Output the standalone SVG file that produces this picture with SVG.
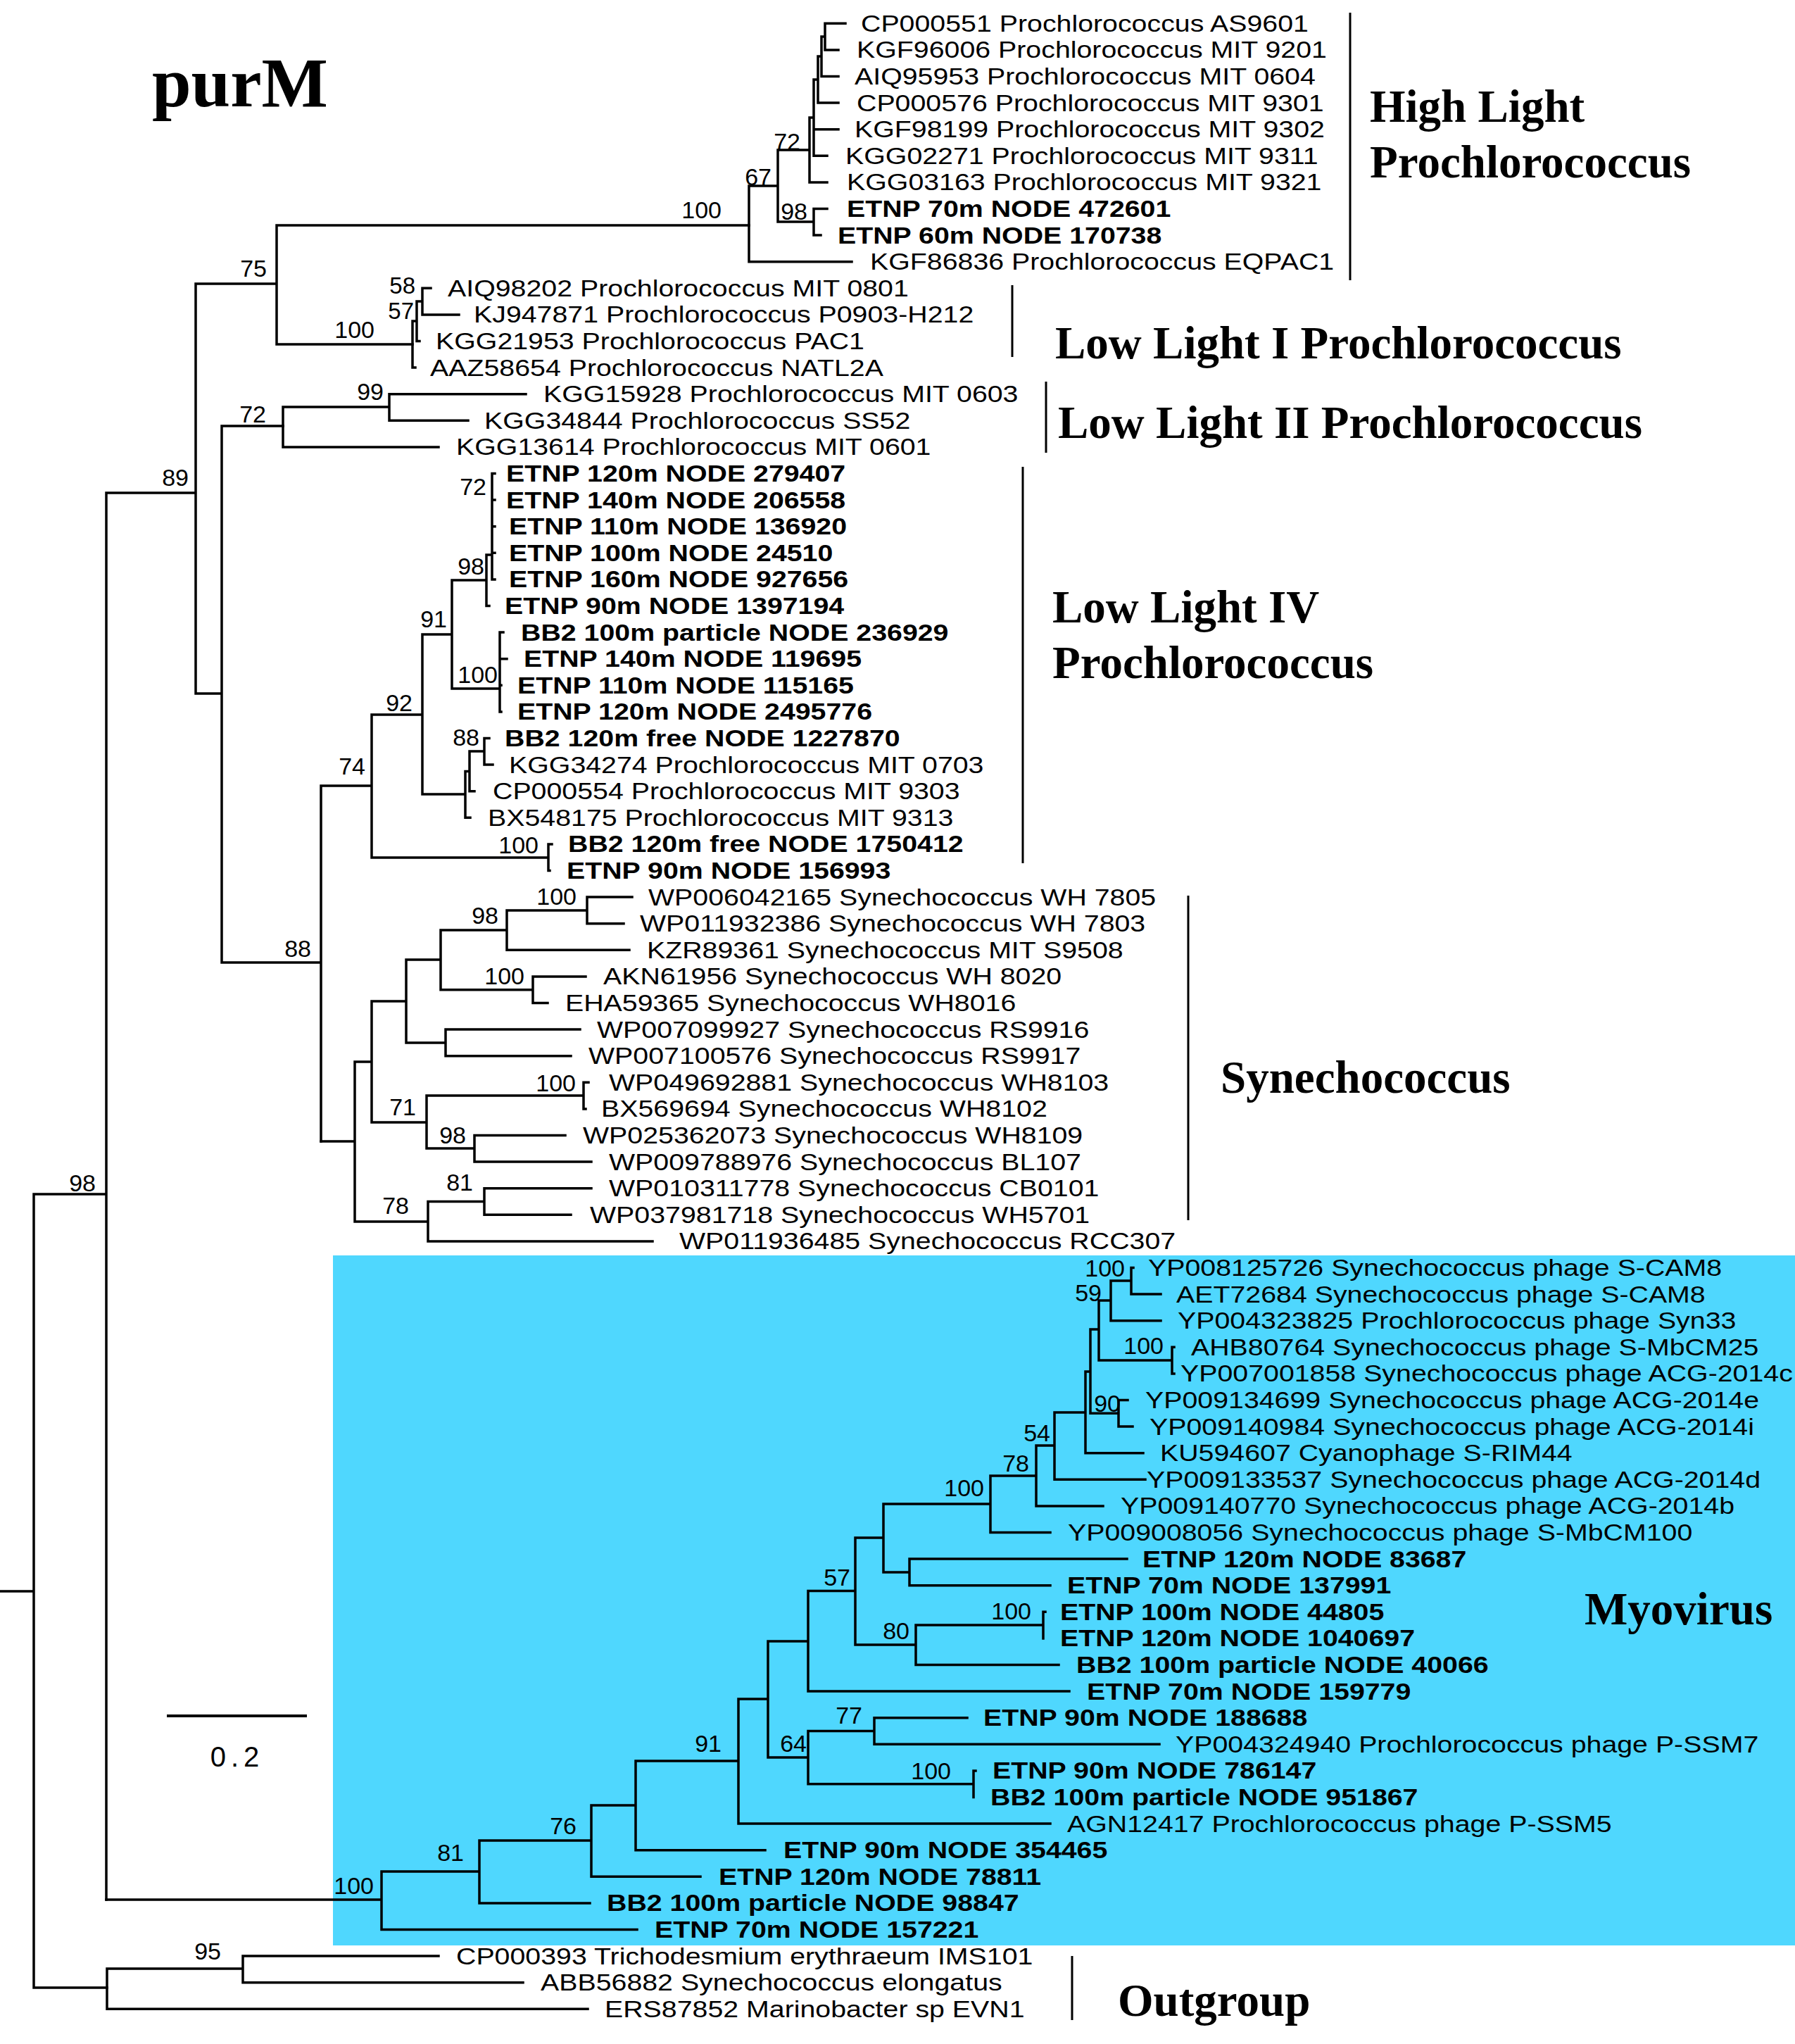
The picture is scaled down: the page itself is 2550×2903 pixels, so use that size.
<svg xmlns="http://www.w3.org/2000/svg" width="2550" height="2903" viewBox="0 0 2550 2903">
<style>
.lf{font-family:"Liberation Sans",Arial,sans-serif;font-size:32.5px;fill:#000}
.b{font-weight:bold}
.bs{font-family:"Liberation Sans",Arial,sans-serif;font-size:34px;fill:#000;text-anchor:end}
.cl{font-family:"Liberation Serif","Times New Roman",serif;font-size:65px;font-weight:bold;fill:#000}
.br{fill:none;stroke:#000;stroke-width:3.5;stroke-linecap:square}
.bar{fill:none;stroke:#000;stroke-width:3}
</style>
<rect width="2550" height="2903" fill="#fff"/>
<rect id="myovirus-box" x="473" y="1783" width="2077" height="980" fill="#4fd7fe"/>
<text class="cl" x="216" y="151" style="font-size:100px">purM</text>
<g id="connectors">
<path class="br" d="M0,2260H48M48,1696V2823M48,1696H151M48,2823H152M151,700V2698M151,700H278M278,403V985M278,403H393M393,320V489M393,320H1064M393,489H586M278,985H315M315,605V1367M315,605H402M315,1367H456M456,1116V1621M456,1116H528M528,1015V1218M528,1015H600M600,901V1128M600,901H642M642,824V978M642,824H691M691,788V860.5M691,860.5H695M691,788H699M699,672.5V822.9M699,672.5H703M699,710.1H703M699,747.7H703M699,785.3H703M699,822.9H703M642,978H710M710,898.1V1010.9M710,898.1H715M710,935.7H720M710,973.3H712M710,1010.9H712M600,1128H661M661,1095.5V1161.3M661,1161.3H668M661,1095.5H667M667,1067V1123.7M667,1123.7H674M667,1067H688M688,1048.5V1086.1M688,1048.5H695M688,1086.1H700M528,1218H779M779,1198.9V1236.5M779,1198.9H784M779,1236.5H781"/>
<path class="br" d="M402,578V634.9M402,578H553M553,559.7V597.3M553,559.7H747M553,597.3H665M402,634.9H623M586,456V522.1M586,522.1H590M586,456H592M592,428V484.5M592,484.5H596M592,428H600M600,409.3V446.9M600,409.3H612M600,446.9H652"/>
<path class="br" d="M1064,264V371.7M1064,371.7H1210M1064,264H1105M1105,213V315M1105,315H1156M1156,296.5V334.1M1156,296.5H1175M1156,334.1H1166M1105,213H1150M1150,167V258.9M1150,258.9H1175M1150,167H1156M1156,113V221.3M1156,221.3H1175M1156,183.7H1191M1156,113H1162M1162,80V146.1M1162,146.1H1191M1162,80H1167M1167,52V108.5M1167,108.5H1191M1167,52H1172M1172,33.3V70.9M1172,33.3H1201M1172,70.9H1191"/>
<path class="br" d="M456,1621H504M504,1508V1735M504,1508H528M528,1422V1594M528,1422H577M577,1363V1481M577,1363H626M626,1321V1405.7M626,1321H720M720,1293V1349.3M720,1293H834M834,1274.1V1311.7M834,1274.1H898M834,1311.7H886M720,1349.3H894M626,1405.7H757M757,1386.9V1424.5M757,1386.9H832M757,1424.5H778M577,1481H633M633,1462.1V1499.7M633,1462.1H824M633,1499.7H811M528,1594H606M606,1556V1631M606,1556H829M829,1537.3V1574.9M829,1537.3H836M829,1574.9H832M606,1631H674M674,1612.5V1650.1M674,1612.5H803M674,1650.1H840M504,1735H608M608,1706.5V1762.9M608,1706.5H688M688,1687.7V1725.3M688,1687.7H840M688,1725.3H811M608,1762.9H927"/>
<path class="br" d="M151,2698H542M542,2658V2740.5M542,2740.5H905M542,2658H681M681,2614V2702.9M681,2702.9H838M681,2614H840M840,2564V2665.3M840,2665.3H995M840,2564H903M903,2501V2627.7M903,2627.7H1087M903,2501H1049M1049,2413V2590.1M1049,2590.1H1492M1049,2413H1091M1091,2331V2496M1091,2496H1148M1148,2458.5V2533.7M1148,2458.5H1242M1242,2439.7V2477.3M1242,2439.7H1374M1242,2477.3H1647M1148,2533.7H1383M1383,2514.9V2552.5M1383,2514.9H1386M1091,2331H1148M1148,2259.5V2402.1M1148,2402.1H1519M1148,2259.5H1215M1215,2184V2336M1215,2336H1301M1301,2308V2364.5M1301,2364.5H1504M1301,2308H1482M1482,2289.3V2326.9M1482,2289.3H1485M1215,2184H1255M1255,2136V2233M1255,2233H1292M1292,2214.1V2251.7M1292,2214.1H1601M1292,2251.7H1492M1255,2136H1407M1407,2096V2176.5M1407,2176.5H1492M1407,2096H1472M1472,2053V2138.9M1472,2138.9H1567M1472,2053H1498M1498,2006V2101.3M1498,2101.3H1627M1498,2006H1542M1542,1948V2063.7M1542,2063.7H1624M1542,1948H1549M1549,1888V2007.3M1549,2007.3H1589M1589,1988.5V2026.1M1589,1988.5H1602M1589,2026.1H1609M1549,1888H1561M1561,1847V1932M1561,1932H1665M1665,1913.3V1950.9M1665,1913.3H1668M1665,1950.9H1668M1561,1847H1578M1578,1819V1875.7M1578,1875.7H1649M1578,1819H1607M1607,1800.5V1838.1M1607,1800.5H1610M1607,1838.1H1649"/>
<path class="br" d="M152,2796V2853.3M152,2796H345M345,2778.1V2815.7M345,2778.1H623M345,2815.7H743M152,2853.3H835"/>
<path class="bar" d="M1918,18V398M1438,405V507M1486,542V643M1453,663V1226M1688,1272V1733M1523,2778V2869"/>
<path class="br" d="M239,2437H434" style="stroke-width:4"/>
</g>
<g id="bootstrap">
<text class="bs" x="1025" y="310">100</text>
<text class="bs" x="1096" y="263">67</text>
<text class="bs" x="1137" y="213">72</text>
<text class="bs" x="1147" y="312">98</text>
<text class="bs" x="379" y="393">75</text>
<text class="bs" x="268" y="690">89</text>
<text class="bs" x="532" y="480">100</text>
<text class="bs" x="590" y="417" style="font-size:33px">58</text>
<text class="bs" x="588" y="453" style="font-size:33px">57</text>
<text class="bs" x="378" y="600">72</text>
<text class="bs" x="545" y="568">99</text>
<text class="bs" x="691" y="703">72</text>
<text class="bs" x="688" y="816">98</text>
<text class="bs" x="635" y="891">91</text>
<text class="bs" x="707" y="970">100</text>
<text class="bs" x="586" y="1010">92</text>
<text class="bs" x="681" y="1059">88</text>
<text class="bs" x="519" y="1100">74</text>
<text class="bs" x="765" y="1212">100</text>
<text class="bs" x="442" y="1359">88</text>
<text class="bs" x="708" y="1312">98</text>
<text class="bs" x="819" y="1285">100</text>
<text class="bs" x="745" y="1398">100</text>
<text class="bs" x="591" y="1584">71</text>
<text class="bs" x="818" y="1550">100</text>
<text class="bs" x="662" y="1624">98</text>
<text class="bs" x="581" y="1724">78</text>
<text class="bs" x="672" y="1691">81</text>
<text class="bs" x="136" y="1692">98</text>
<text class="bs" x="1598" y="1813">100</text>
<text class="bs" x="1565" y="1848">59</text>
<text class="bs" x="1653" y="1923">100</text>
<text class="bs" x="1592" y="2005">90</text>
<text class="bs" x="1492" y="2047">54</text>
<text class="bs" x="1462" y="2090">78</text>
<text class="bs" x="1398" y="2125">100</text>
<text class="bs" x="1208" y="2252">57</text>
<text class="bs" x="1292" y="2328">80</text>
<text class="bs" x="1465" y="2300">100</text>
<text class="bs" x="1225" y="2448">77</text>
<text class="bs" x="1146" y="2488">64</text>
<text class="bs" x="1351" y="2527">100</text>
<text class="bs" x="1025" y="2488">91</text>
<text class="bs" x="819" y="2605">76</text>
<text class="bs" x="659" y="2643">81</text>
<text class="bs" x="531" y="2690">100</text>
<text class="bs" x="314" y="2783">95</text>
<text class="bs" x="337" y="2509" style="text-anchor:middle;font-size:40px;letter-spacing:7px">0.2</text>
</g>
<g id="n01"><text class="lf" transform="translate(1223 44.8) scale(1.21 1)">CP000551 Prochlorococcus AS9601</text></g>
<g id="n02"><text class="lf" transform="translate(1217 82.4) scale(1.21 1)">KGF96006 Prochlorococcus MIT 9201</text></g>
<g id="n03"><text class="lf" transform="translate(1214 120) scale(1.21 1)">AIQ95953 Prochlorococcus MIT 0604</text></g>
<g id="n04"><text class="lf" transform="translate(1217 157.6) scale(1.21 1)">CP000576 Prochlorococcus MIT 9301</text></g>
<g id="n05"><text class="lf" transform="translate(1214 195.2) scale(1.21 1)">KGF98199 Prochlorococcus MIT 9302</text></g>
<g id="n06"><text class="lf" transform="translate(1201 232.8) scale(1.21 1)">KGG02271 Prochlorococcus MIT 9311</text></g>
<g id="n07"><text class="lf" transform="translate(1203 270.4) scale(1.21 1)">KGG03163 Prochlorococcus MIT 9321</text></g>
<g id="n08"><text class="lf b" transform="translate(1203 308) scale(1.21 1)">ETNP 70m NODE 472601</text></g>
<g id="n09"><text class="lf b" transform="translate(1190 345.6) scale(1.21 1)">ETNP 60m NODE 170738</text></g>
<g id="n10"><text class="lf" transform="translate(1236 383.2) scale(1.21 1)">KGF86836 Prochlorococcus EQPAC1</text></g>
<g id="n11"><text class="lf" transform="translate(636 420.8) scale(1.21 1)">AIQ98202 Prochlorococcus MIT 0801</text></g>
<g id="n12"><text class="lf" transform="translate(673 458.4) scale(1.21 1)">KJ947871 Prochlorococcus P0903-H212</text></g>
<g id="n13"><text class="lf" transform="translate(619 496) scale(1.21 1)">KGG21953 Prochlorococcus PAC1</text></g>
<g id="n14"><text class="lf" transform="translate(611 533.6) scale(1.21 1)">AAZ58654 Prochlorococcus NATL2A</text></g>
<g id="n15"><text class="lf" transform="translate(772 571.2) scale(1.21 1)">KGG15928 Prochlorococcus MIT 0603</text></g>
<g id="n16"><text class="lf" transform="translate(688 608.8) scale(1.21 1)">KGG34844 Prochlorococcus SS52</text></g>
<g id="n17"><text class="lf" transform="translate(648 646.4) scale(1.21 1)">KGG13614 Prochlorococcus MIT 0601</text></g>
<g id="n18"><text class="lf b" transform="translate(719 684) scale(1.21 1)">ETNP 120m NODE 279407</text></g>
<g id="n19"><text class="lf b" transform="translate(719 721.6) scale(1.21 1)">ETNP 140m NODE 206558</text></g>
<g id="n20"><text class="lf b" transform="translate(723 759.2) scale(1.21 1)">ETNP 110m NODE 136920</text></g>
<g id="n21"><text class="lf b" transform="translate(723 796.8) scale(1.21 1)">ETNP 100m NODE 24510</text></g>
<g id="n22"><text class="lf b" transform="translate(723 834.4) scale(1.21 1)">ETNP 160m NODE 927656</text></g>
<g id="n23"><text class="lf b" transform="translate(717 872) scale(1.21 1)">ETNP 90m NODE 1397194</text></g>
<g id="n24"><text class="lf b" transform="translate(740 909.6) scale(1.21 1)">BB2 100m particle NODE 236929</text></g>
<g id="n25"><text class="lf b" transform="translate(744 947.2) scale(1.21 1)">ETNP 140m NODE 119695</text></g>
<g id="n26"><text class="lf b" transform="translate(735 984.8) scale(1.21 1)">ETNP 110m NODE 115165</text></g>
<g id="n27"><text class="lf b" transform="translate(735 1022.4) scale(1.21 1)">ETNP 120m NODE 2495776</text></g>
<g id="n28"><text class="lf b" transform="translate(717 1060) scale(1.21 1)">BB2 120m free NODE 1227870</text></g>
<g id="n29"><text class="lf" transform="translate(723 1097.6) scale(1.21 1)">KGG34274 Prochlorococcus MIT 0703</text></g>
<g id="n30"><text class="lf" transform="translate(700 1135.2) scale(1.21 1)">CP000554 Prochlorococcus MIT 9303</text></g>
<g id="n31"><text class="lf" transform="translate(693 1172.8) scale(1.21 1)">BX548175 Prochlorococcus MIT 9313</text></g>
<g id="n32"><text class="lf b" transform="translate(807 1210.4) scale(1.21 1)">BB2 120m free NODE 1750412</text></g>
<g id="n33"><text class="lf b" transform="translate(805 1248) scale(1.21 1)">ETNP 90m NODE 156993</text></g>
<g id="n34"><text class="lf" transform="translate(921 1285.6) scale(1.21 1)">WP006042165 Synechococcus WH 7805</text></g>
<g id="n35"><text class="lf" transform="translate(909 1323.2) scale(1.21 1)">WP011932386 Synechococcus WH 7803</text></g>
<g id="n36"><text class="lf" transform="translate(919 1360.8) scale(1.21 1)">KZR89361 Synechococcus MIT S9508</text></g>
<g id="n37"><text class="lf" transform="translate(857 1398.4) scale(1.21 1)">AKN61956 Synechococcus WH 8020</text></g>
<g id="n38"><text class="lf" transform="translate(803 1436) scale(1.21 1)">EHA59365 Synechococcus WH8016</text></g>
<g id="n39"><text class="lf" transform="translate(848 1473.6) scale(1.21 1)">WP007099927 Synechococcus RS9916</text></g>
<g id="n40"><text class="lf" transform="translate(836 1511.2) scale(1.21 1)">WP007100576 Synechococcus RS9917</text></g>
<g id="n41"><text class="lf" transform="translate(865 1548.8) scale(1.21 1)">WP049692881 Synechococcus WH8103</text></g>
<g id="n42"><text class="lf" transform="translate(854 1586.4) scale(1.21 1)">BX569694 Synechococcus WH8102</text></g>
<g id="n43"><text class="lf" transform="translate(828 1624) scale(1.21 1)">WP025362073 Synechococcus WH8109</text></g>
<g id="n44"><text class="lf" transform="translate(865 1661.6) scale(1.21 1)">WP009788976 Synechococcus BL107</text></g>
<g id="n45"><text class="lf" transform="translate(865 1699.2) scale(1.21 1)">WP010311778 Synechococcus CB0101</text></g>
<g id="n46"><text class="lf" transform="translate(838 1736.8) scale(1.21 1)">WP037981718 Synechococcus WH5701</text></g>
<g id="n47"><text class="lf" transform="translate(965 1774.4) scale(1.21 1)">WP011936485 Synechococcus RCC307</text></g>
<g id="n48"><text class="lf" transform="translate(1631 1812) scale(1.21 1)">YP008125726 Synechococcus phage S-CAM8</text></g>
<g id="n49"><text class="lf" transform="translate(1671 1849.6) scale(1.21 1)">AET72684 Synechococcus phage S-CAM8</text></g>
<g id="n50"><text class="lf" transform="translate(1673 1887.2) scale(1.21 1)">YP004323825 Prochlorococcus phage Syn33</text></g>
<g id="n51"><text class="lf" transform="translate(1692 1924.8) scale(1.21 1)">AHB80764 Synechococcus phage S-MbCM25</text></g>
<g id="n52"><text class="lf" transform="translate(1677 1962.4) scale(1.21 1)">YP007001858 Synechococcus phage ACG-2014c</text></g>
<g id="n53"><text class="lf" transform="translate(1627 2000) scale(1.21 1)">YP009134699 Synechococcus phage ACG-2014e</text></g>
<g id="n54"><text class="lf" transform="translate(1633 2037.6) scale(1.21 1)">YP009140984 Synechococcus phage ACG-2014i</text></g>
<g id="n55"><text class="lf" transform="translate(1648 2075.2) scale(1.21 1)">KU594607 Cyanophage S-RIM44</text></g>
<g id="n56"><text class="lf" transform="translate(1629 2112.8) scale(1.21 1)">YP009133537 Synechococcus phage ACG-2014d</text></g>
<g id="n57"><text class="lf" transform="translate(1592 2150.4) scale(1.21 1)">YP009140770 Synechococcus phage ACG-2014b</text></g>
<g id="n58"><text class="lf" transform="translate(1517 2188) scale(1.21 1)">YP009008056 Synechococcus phage S-MbCM100</text></g>
<g id="n59"><text class="lf b" transform="translate(1623 2225.6) scale(1.21 1)">ETNP 120m NODE 83687</text></g>
<g id="n60"><text class="lf b" transform="translate(1516 2263.2) scale(1.21 1)">ETNP 70m NODE 137991</text></g>
<g id="n61"><text class="lf b" transform="translate(1506 2300.8) scale(1.21 1)">ETNP 100m NODE 44805</text></g>
<g id="n62"><text class="lf b" transform="translate(1506 2338.4) scale(1.21 1)">ETNP 120m NODE 1040697</text></g>
<g id="n63"><text class="lf b" transform="translate(1529 2376) scale(1.21 1)">BB2 100m particle NODE 40066</text></g>
<g id="n64"><text class="lf b" transform="translate(1544 2413.6) scale(1.21 1)">ETNP 70m NODE 159779</text></g>
<g id="n65"><text class="lf b" transform="translate(1397 2451.2) scale(1.21 1)">ETNP 90m NODE 188688</text></g>
<g id="n66"><text class="lf" transform="translate(1670 2488.8) scale(1.21 1)">YP004324940 Prochlorococcus phage P-SSM7</text></g>
<g id="n67"><text class="lf b" transform="translate(1410 2526.4) scale(1.21 1)">ETNP 90m NODE 786147</text></g>
<g id="n68"><text class="lf b" transform="translate(1407 2564) scale(1.21 1)">BB2 100m particle NODE 951867</text></g>
<g id="n69"><text class="lf" transform="translate(1516 2601.6) scale(1.21 1)">AGN12417 Prochlorococcus phage P-SSM5</text></g>
<g id="n70"><text class="lf b" transform="translate(1113 2639.2) scale(1.21 1)">ETNP 90m NODE 354465</text></g>
<g id="n71"><text class="lf b" transform="translate(1021 2676.8) scale(1.21 1)">ETNP 120m NODE 78811</text></g>
<g id="n72"><text class="lf b" transform="translate(862 2714.4) scale(1.21 1)">BB2 100m particle NODE 98847</text></g>
<g id="n73"><text class="lf b" transform="translate(930 2752) scale(1.21 1)">ETNP 70m NODE 157221</text></g>
<g id="n74"><text class="lf" transform="translate(648 2789.6) scale(1.21 1)">CP000393 Trichodesmium erythraeum IMS101</text></g>
<g id="n75"><text class="lf" transform="translate(768 2827.2) scale(1.21 1)">ABB56882 Synechococcus elongatus</text></g>
<g id="n76"><text class="lf" transform="translate(859 2864.8) scale(1.21 1)">ERS87852 Marinobacter sp EVN1</text></g>
<g id="clade-labels">
<text class="cl" x="1946" y="173">High Light</text>
<text class="cl" x="1946" y="252">Prochlorococcus</text>
<text class="cl" x="1499" y="509">Low Light I Prochlorococcus</text>
<text class="cl" x="1503" y="622">Low Light II Prochlorococcus</text>
<text class="cl" x="1495" y="884">Low Light IV</text>
<text class="cl" x="1495" y="963">Prochlorococcus</text>
<text class="cl" x="1734" y="1552">Synechococcus</text>
<text class="cl" x="2251" y="2307">Myovirus</text>
<text class="cl" x="1588" y="2863">Outgroup</text>
</g>
</svg>
